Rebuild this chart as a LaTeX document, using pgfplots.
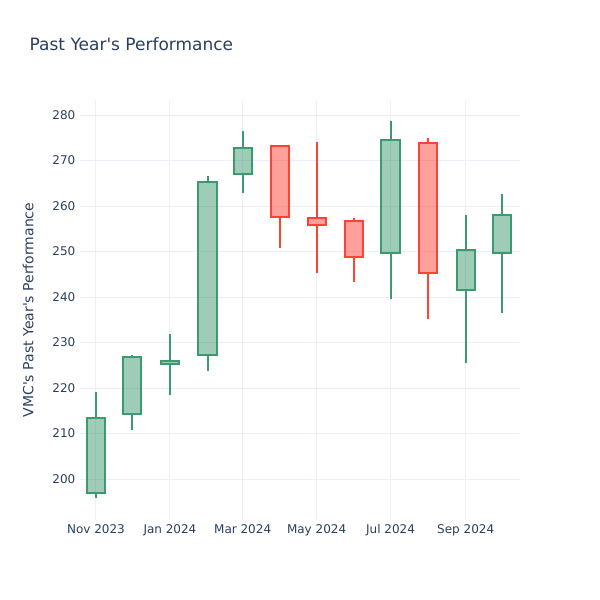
\documentclass[border=0pt]{standalone}
\usepackage{pgfplots}
\pgfplotsset{compat=1.18}
\usepgfplotslibrary{statistics}
\usepackage{fontspec}
\setmainfont{DejaVu Sans}
\definecolor{inc}{HTML}{3D9970}
\definecolor{dec}{HTML}{FF4136}
\definecolor{txt}{HTML}{2A3F5F}
\definecolor{grd}{HTML}{EBF0F8}
\begin{document}
\begin{tikzpicture}
\begin{axis}[
  scale only axis,
  width=330pt, height=315pt,
  xmin=-13.2, xmax=349.8,
  ymin=191.0, ymax=283.3,
  boxplot/draw direction=y,
  xtick={0,61,121,182,243,305},
  xticklabels={Nov 2023,Jan 2024,Mar 2024,May 2024,Jul 2024,Sep 2024},
  ytick={200,210,220,230,240,250,260,270,280},
  /pgf/number format/assume math mode=true,
  ticklabel style={font=\fontsize{9pt}{10pt}\selectfont, text=txt},
  major tick length=0pt,
  axis line style={draw=none},
  grid=major,
  major grid style={grd, line width=0.75pt},
  title={Past Year\textquotesingle s Performance},
  title style={font=\fontsize{12.75pt}{14pt}\selectfont, text=txt, at={(axis description cs:-0.125,1.114)}, anchor=west},
  ylabel={VMC\textquotesingle s Past Year\textquotesingle s Performance},
  every axis y label/.style={at={(axis description cs:-0.118,0.5)}, rotate=90, anchor=center, font=\fontsize{10.5pt}{12pt}\selectfont, text=txt},
]
% increasing candles (green)
\addplot[boxplot prepared={draw position=0, lower whisker=195.8, lower quartile=197.0, median=197.0, upper quartile=213.5, upper whisker=219.2, box extend=15, whisker extend=0}, draw=inc, fill=inc, fill opacity=0.5, line width=1.5pt] coordinates {};
\addplot[boxplot prepared={draw position=30, lower whisker=210.8, lower quartile=214.2, median=214.2, upper quartile=226.9, upper whisker=227.3, box extend=15, whisker extend=0}, draw=inc, fill=inc, fill opacity=0.5, line width=1.5pt] coordinates {};
\addplot[boxplot prepared={draw position=61, lower whisker=218.5, lower quartile=225.3, median=225.3, upper quartile=226.0, upper whisker=231.9, box extend=15, whisker extend=0}, draw=inc, fill=inc, fill opacity=0.5, line width=1.5pt] coordinates {};
\addplot[boxplot prepared={draw position=92, lower whisker=223.8, lower quartile=227.2, median=227.2, upper quartile=265.3, upper whisker=266.6, box extend=15, whisker extend=0}, draw=inc, fill=inc, fill opacity=0.5, line width=1.5pt] coordinates {};
\addplot[boxplot prepared={draw position=121, lower whisker=262.8, lower quartile=267.0, median=267.0, upper quartile=272.8, upper whisker=276.5, box extend=15, whisker extend=0}, draw=inc, fill=inc, fill opacity=0.5, line width=1.5pt] coordinates {};
% decreasing candles (red)
\addplot[boxplot prepared={draw position=152, lower whisker=250.7, lower quartile=257.6, median=257.6, upper quartile=273.2, upper whisker=273.3, box extend=15, whisker extend=0}, draw=dec, fill=dec, fill opacity=0.5, line width=1.5pt] coordinates {};
\addplot[boxplot prepared={draw position=182, lower whisker=245.3, lower quartile=255.8, median=255.8, upper quartile=257.4, upper whisker=274.0, box extend=15, whisker extend=0}, draw=dec, fill=dec, fill opacity=0.5, line width=1.5pt] coordinates {};
\addplot[boxplot prepared={draw position=213, lower whisker=243.2, lower quartile=248.7, median=248.7, upper quartile=256.8, upper whisker=257.3, box extend=15, whisker extend=0}, draw=dec, fill=dec, fill opacity=0.5, line width=1.5pt] coordinates {};
% increasing
\addplot[boxplot prepared={draw position=243, lower whisker=239.5, lower quartile=249.6, median=249.6, upper quartile=274.4, upper whisker=278.7, box extend=15, whisker extend=0}, draw=inc, fill=inc, fill opacity=0.5, line width=1.5pt] coordinates {};
% decreasing
\addplot[boxplot prepared={draw position=274, lower whisker=235.1, lower quartile=245.2, median=245.2, upper quartile=273.9, upper whisker=274.9, box extend=15, whisker extend=0}, draw=dec, fill=dec, fill opacity=0.5, line width=1.5pt] coordinates {};
% increasing
\addplot[boxplot prepared={draw position=305, lower whisker=225.4, lower quartile=241.6, median=241.6, upper quartile=250.3, upper whisker=258.0, box extend=15, whisker extend=0}, draw=inc, fill=inc, fill opacity=0.5, line width=1.5pt] coordinates {};
\addplot[boxplot prepared={draw position=335, lower whisker=236.6, lower quartile=249.7, median=249.7, upper quartile=258.0, upper whisker=262.6, box extend=15, whisker extend=0}, draw=inc, fill=inc, fill opacity=0.5, line width=1.5pt] coordinates {};
\end{axis}
\path[use as bounding box] ([shift={(-60pt,-60pt)}]current axis.south west) rectangle ([shift={(60pt,75pt)}]current axis.north east);
\end{tikzpicture}
\end{document}
